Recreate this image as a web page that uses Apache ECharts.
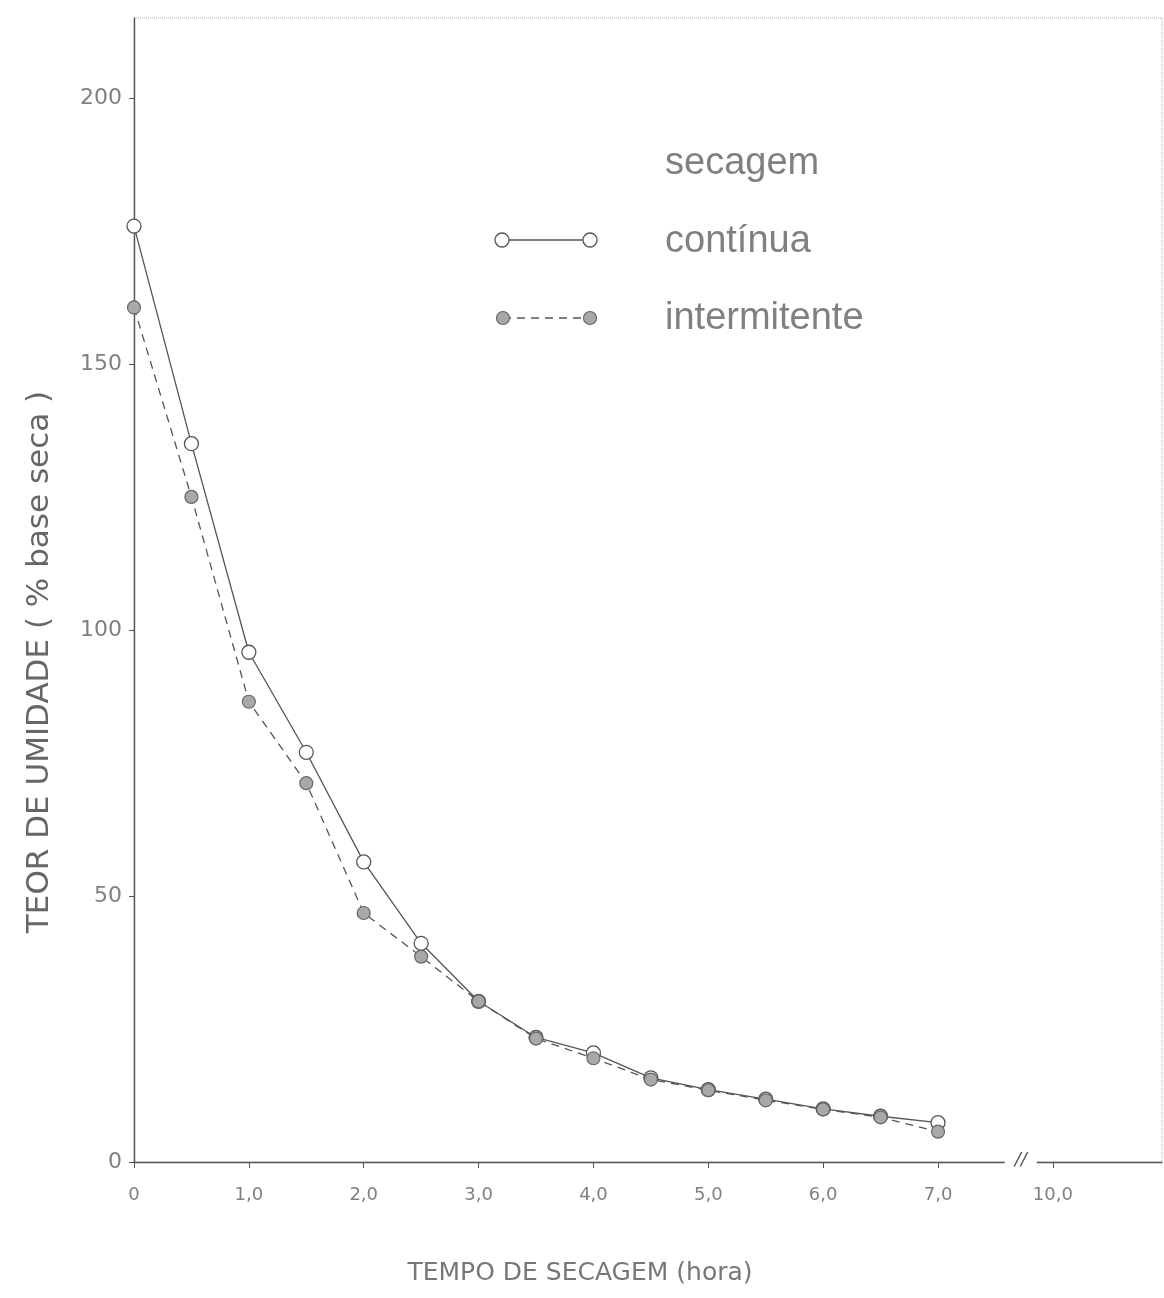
<!DOCTYPE html>
<html>
<head>
<meta charset="utf-8">
<title>Teor de umidade x tempo de secagem</title>
<script src="https://cdn.jsdelivr.net/npm/echarts@6/dist/echarts.min.js"></script>
<style>
  html, body { margin: 0; padding: 0; background: #fff; }
  #chart { width: 1164px; height: 1298px; }
</style>
</head>
<body>
<div id="chart"></div>
<script>
// Drying time (hours) at which moisture content was measured
const hours = [0, 0.5, 1, 1.5, 2, 2.5, 3, 3.5, 4, 4.5, 5, 5.5, 6, 6.5, 7];

// Moisture content (% dry basis) — continuous drying
const continua = [175.9, 135, 95.8, 77, 56.4, 41.1, 30.2, 23.4, 20.5, 15.8, 13.6, 11.8, 10, 8.6, 7.4];

// Moisture content (% dry basis) — intermittent drying
const intermitente = [160.6, 125, 86.5, 71.2, 46.8, 38.6, 30.2, 23.2, 19.5, 15.5, 13.5, 11.6, 9.9, 8.4, 5.7];

// Axis ticks; the last x tick sits after the axis break and reads 10,0
const xTickValues = [0, 1, 2, 3, 4, 5, 6, 7, 8];
const xTickLabels = ['0', '1,0', '2,0', '3,0', '4,0', '5,0', '6,0', '7,0', '10,0'];
const yTickValues = [0, 50, 100, 150, 200];

const INK = '#555';
const TEXT = '#808080';

const chart = echarts.init(document.getElementById('chart'), null, { renderer: 'canvas' });

chart.setOption({
  backgroundColor: '#fff',
  animation: false,
  grid: {
    left: 134, right: 2, top: 18, bottom: 136,
    show: true,
    borderColor: '#b0b0b0',
    borderWidth: 1,
    borderType: 'dotted'
  },
  xAxis: {
    type: 'value',
    min: 0,
    max: 8.95,
    interval: 1,
    axisLine: { lineStyle: { color: INK, width: 1.4 } },
    axisTick: { show: true, length: 6, customValues: xTickValues, lineStyle: { color: INK } },
    axisLabel: {
      customValues: xTickValues,
      formatter: v => {
        const i = xTickValues.indexOf(v);
        return i >= 0 ? xTickLabels[i] : '';
      },
      margin: 24,
      fontSize: 18,
      color: TEXT,
      fontFamily: 'DejaVu Sans'
    },
    splitLine: { show: false }
  },
  yAxis: {
    type: 'value',
    min: 0,
    max: 215,
    interval: 50,
    axisLine: { show: true, lineStyle: { color: INK, width: 1.4 } },
    axisTick: { show: true, length: 5, customValues: yTickValues, lineStyle: { color: INK } },
    axisLabel: {
      customValues: yTickValues,
      margin: 12,
      fontSize: 22,
      color: TEXT,
      fontFamily: 'DejaVu Sans'
    },
    splitLine: { show: false }
  },
  series: [
    {
      name: 'contínua',
      type: 'line',
      data: hours.map((h, i) => [h, continua[i]]),
      smooth: false,
      symbol: 'circle',
      symbolSize: 14,
      showAllSymbol: true,
      lineStyle: { color: INK, width: 1.3, type: 'solid' },
      itemStyle: { color: '#fff', borderColor: INK, borderWidth: 1.3 },
      z: 3
    },
    {
      name: 'intermitente',
      type: 'line',
      data: hours.map((h, i) => [h, intermitente[i]]),
      smooth: false,
      symbol: 'circle',
      symbolSize: 13,
      showAllSymbol: true,
      lineStyle: { color: INK, width: 1.3, type: [8, 6] },
      itemStyle: { color: '#a8a8a8', borderColor: '#666', borderWidth: 1.2 },
      z: 4
    }
  ]
});

// Legend, axis titles and the break mark on the time axis
const breakPos = chart.convertToPixel({ gridIndex: 0 }, [7.72, 0]);
const legendFont = '38px "Liberation Sans", Arial, sans-serif';

chart.setOption({
  graphic: [
    // axis titles
    {
      type: 'text',
      x: 40, y: 662,
      rotation: Math.PI / 2,
      style: {
        text: 'TEOR DE UMIDADE ( % base seca )',
        font: '31px "DejaVu Sans", sans-serif',
        fill: '#666',
        textAlign: 'center',
        textVerticalAlign: 'middle'
      }
    },
    {
      type: 'text',
      x: 580, y: 1273,
      style: {
        text: 'TEMPO DE SECAGEM (hora)',
        font: '25px "DejaVu Sans", sans-serif',
        fill: '#777',
        textAlign: 'center',
        textVerticalAlign: 'middle'
      }
    },
    // legend
    {
      type: 'text', x: 665, y: 164,
      style: { text: 'secagem', font: legendFont, fill: TEXT, textAlign: 'left', textVerticalAlign: 'middle' }
    },
    {
      type: 'line',
      shape: { x1: 502, y1: 240, x2: 590, y2: 240 },
      style: { stroke: INK, lineWidth: 1.3 }
    },
    { type: 'circle', shape: { cx: 502, cy: 240, r: 7 }, style: { fill: '#fff', stroke: INK, lineWidth: 1.3 } },
    { type: 'circle', shape: { cx: 590, cy: 240, r: 7 }, style: { fill: '#fff', stroke: INK, lineWidth: 1.3 } },
    {
      type: 'text', x: 665, y: 242,
      style: { text: 'contínua', font: legendFont, fill: TEXT, textAlign: 'left', textVerticalAlign: 'middle' }
    },
    {
      type: 'line',
      shape: { x1: 503, y1: 318, x2: 590, y2: 318 },
      style: { stroke: INK, lineWidth: 1.3, lineDash: [8, 6] }
    },
    { type: 'circle', shape: { cx: 503, cy: 318, r: 6.5 }, style: { fill: '#a8a8a8', stroke: '#666', lineWidth: 1.2 } },
    { type: 'circle', shape: { cx: 590, cy: 318, r: 6.5 }, style: { fill: '#a8a8a8', stroke: '#666', lineWidth: 1.2 } },
    {
      type: 'text', x: 665, y: 319,
      style: { text: 'intermitente', font: legendFont, fill: TEXT, textAlign: 'left', textVerticalAlign: 'middle' }
    },
    // break in the time axis between 7,0 and 10,0
    {
      type: 'rect',
      shape: { x: breakPos[0] - 16, y: breakPos[1] - 4, width: 32, height: 8 },
      style: { fill: '#fff' },
      z: 100
    },
    {
      type: 'text',
      x: breakPos[0], y: breakPos[1] - 2,
      style: {
        text: '//',
        font: 'italic 18px "DejaVu Sans", sans-serif',
        fill: INK,
        textAlign: 'center',
        textVerticalAlign: 'middle'
      },
      z: 101
    }
  ]
});
</script>
</body>
</html>
